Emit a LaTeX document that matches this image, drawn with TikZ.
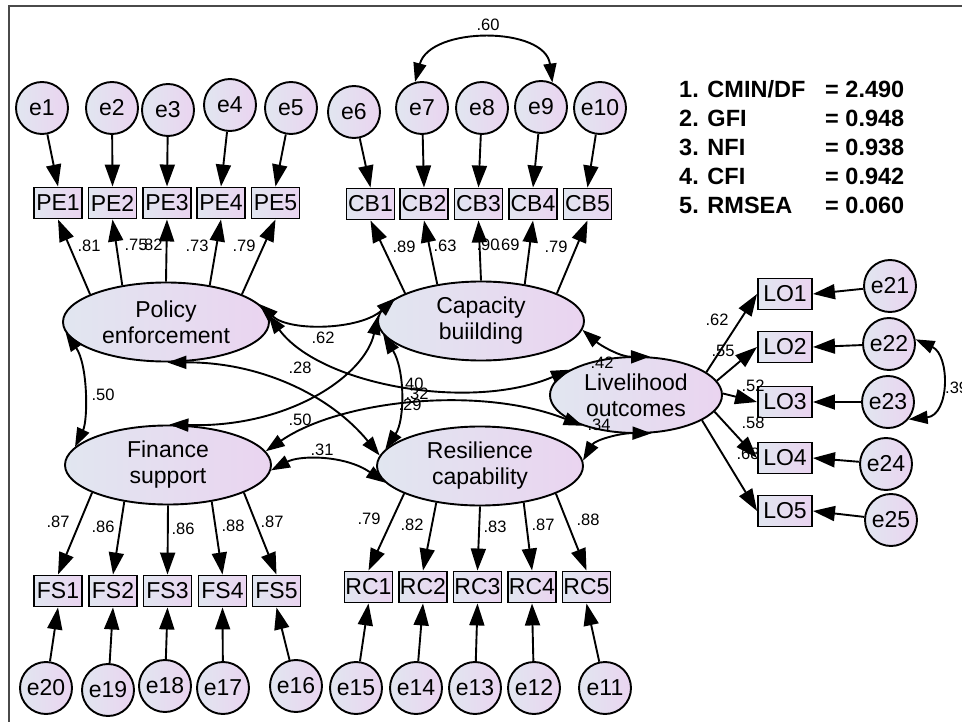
\documentclass[tikz,border=0pt]{standalone}
\usepackage{fontspec}
\setmainfont{Liberation Sans}
\usetikzlibrary{arrows.meta,shapes.geometric,backgrounds}
\definecolor{semLeft}{HTML}{E1E6F0}
\definecolor{semRight}{HTML}{EAD4F0}
\definecolor{semFrame}{HTML}{4A4A4A}
\tikzset{
  semShade/.style={
    left color=semLeft,
    right color=semRight
  },
  semObs/.style={
    rectangle,
    draw=black,
    line width=1.9pt,
    semShade,
    minimum width=48pt,
    minimum height=31pt,
    inner sep=1pt,
    font=\fontsize{23}{26}\selectfont
  },
  semLatent/.style={
    ellipse,
    draw=black,
    line width=1.9pt,
    semShade,
    minimum width=206pt,
    minimum height=79pt,
    inner sep=0pt,
    align=center,
    font=\fontsize{23}{26}\selectfont
  },
  semErr/.style={
    circle,
    draw=black,
    line width=1.9pt,
    semShade,
    minimum size=52pt,
    inner sep=0pt,
    font=\fontsize{23}{26}\selectfont
  },
  semArrow/.style={
    -{Triangle[length=22pt,width=15pt]},
    line width=1.9pt
  },
  semCov/.style={
    {Triangle[length=19pt,width=13pt]}-{Triangle[length=19pt,width=13pt]},
    line width=1.9pt
  },
  semLabel/.style={
    inner sep=0pt,
    font=\fontsize{16.5}{18}\selectfont
  },
  semFit/.style={
    inner sep=0pt,
    font=\bfseries\fontsize{23.5}{29}\selectfont
  }
}

\begin{document}
\begin{tikzpicture}[x=1pt, y=-1pt]
  \useasboundingbox (0,0) rectangle (962,722);
  \draw[semFrame, line width=1.4pt] (9,722) -- (9,6) -- (962,6);

  % latent variables
  \node[semLatent] (pe) at (166,322) {Policy\\enforcement};
  \node[semLatent] (cb) at (481,321) {Capacity\\buiilding};
  \node[semLatent] (fs) at (168,465) {Finance\\support};
  \node[semLatent] (rc) at (480,466) {Resilience\\capability};
  \node[semLatent, minimum width=172pt, minimum height=76pt] (lo) at (636,395) {Livelihood\\outcomes};

  % hidden label under LO4
  \begin{scope}[on background layer]
    \node[semLabel] (lLO5) at (748,454) {.68};
  \end{scope}

  % indicators
  \node[semObs] (PE1) at (58,203) {PE1};
  \node[semObs] (PE2) at (112.5,203) {PE2};
  \node[semObs] (PE3) at (167,203) {PE3};
  \node[semObs] (PE4) at (221,203) {PE4};
  \node[semObs] (PE5) at (275.5,203) {PE5};
  \node[semObs] (CB1) at (370.5,204) {CB1};
  \node[semObs] (CB2) at (424,204) {CB2};
  \node[semObs] (CB3) at (478.5,204) {CB3};
  \node[semObs] (CB4) at (533,204) {CB4};
  \node[semObs] (CB5) at (587.5,204) {CB5};
  \node[semObs] (FS1) at (58,591) {FS1};
  \node[semObs] (FS2) at (113,591) {FS2};
  \node[semObs] (FS3) at (167.5,591) {FS3};
  \node[semObs] (FS4) at (222.5,591) {FS4};
  \node[semObs] (FS5) at (276.5,591) {FS5};
  \node[semObs] (RC1) at (368.5,587) {RC1};
  \node[semObs] (RC2) at (423,587) {RC2};
  \node[semObs] (RC3) at (477.5,587) {RC3};
  \node[semObs] (RC4) at (532,587) {RC4};
  \node[semObs] (RC5) at (586.5,587) {RC5};
  \node[semObs, minimum width=54pt] (LO1) at (785,294) {LO1};
  \node[semObs, minimum width=54pt] (LO2) at (785,347) {LO2};
  \node[semObs, minimum width=54pt] (LO3) at (785,402) {LO3};
  \node[semObs, minimum width=54pt] (LO4) at (785,458) {LO4};
  \node[semObs, minimum width=54pt] (LO5) at (785,511) {LO5};

  % error terms
  \node[semErr] (e1) at (42,108) {e1};
  \node[semErr] (e2) at (112,108) {e2};
  \node[semErr] (e3) at (168,110) {e3};
  \node[semErr] (e4) at (230,105) {e4};
  \node[semErr] (e5) at (291,108) {e5};
  \node[semErr] (e6) at (354,112) {e6};
  \node[semErr] (e7) at (422,108) {e7};
  \node[semErr] (e8) at (482,108) {e8};
  \node[semErr] (e9) at (541,107) {e9};
  \node[semErr] (e10) at (600,108) {e10};
  \node[semErr] (e11) at (605,688) {e11};
  \node[semErr] (e12) at (534,688) {e12};
  \node[semErr] (e13) at (475,688) {e13};
  \node[semErr] (e14) at (416,688) {e14};
  \node[semErr] (e15) at (356,688) {e15};
  \node[semErr] (e16) at (296,686) {e16};
  \node[semErr] (e17) at (223,688) {e17};
  \node[semErr] (e18) at (165,686) {e18};
  \node[semErr] (e19) at (108,690) {e19};
  \node[semErr] (e20) at (46,688) {e20};
  \node[semErr] (e21) at (890,286) {e21};
  \node[semErr] (e22) at (889,344) {e22};
  \node[semErr] (e23) at (888,402) {e23};
  \node[semErr] (e24) at (886,464) {e24};
  \node[semErr] (e25) at (891,520) {e25};

  % fit indices
  \node[semFit, anchor=north west] (fit) at (679,77) {%
    \begin{tabular}{@{}p{146pt}@{}l@{}}
      1. CMIN/DF & = 2.490\\
      2. GFI & = 0.948\\
      3. NFI & = 0.938\\
      4. CFI & = 0.942\\
      5. RMSEA & = 0.060
    \end{tabular}};

  % errors to indicators
  \draw[semArrow] (e1) -- (PE1.north);
  \draw[semArrow] (e2) -- (PE2.north);
  \draw[semArrow] (e3) -- (PE3.north);
  \draw[semArrow] (e4) -- (PE4.north);
  \draw[semArrow] (e5) -- (PE5.north);
  \draw[semArrow] (e6) -- (CB1.north);
  \draw[semArrow] (e7) -- (CB2.north);
  \draw[semArrow] (e8) -- (CB3.north);
  \draw[semArrow] (e9) -- (CB4.north);
  \draw[semArrow] (e10) -- (CB5.north);
  \draw[semArrow] (e20) -- (FS1.south);
  \draw[semArrow] (e19) -- (FS2.south);
  \draw[semArrow] (e18) -- (FS3.south);
  \draw[semArrow] (e17) -- (FS4.south);
  \draw[semArrow] (e16) -- (FS5.south);
  \draw[semArrow] (e15) -- (RC1.south);
  \draw[semArrow] (e14) -- (RC2.south);
  \draw[semArrow] (e13) -- (RC3.south);
  \draw[semArrow] (e12) -- (RC4.south);
  \draw[semArrow] (e11) -- (RC5.south);
  \draw[semArrow] (e21) -- (LO1.east);
  \draw[semArrow] (e22) -- (LO2.east);
  \draw[semArrow] (e23) -- (LO3.east);
  \draw[semArrow] (e24) -- (LO4.east);
  \draw[semArrow] (e25) -- (LO5.east);

  % loadings
  \draw[semArrow] (pe.160) -- (PE1.south);
  \draw[semArrow] (pe.140) -- (PE2.south);
  \draw[semArrow] (pe.90) -- (PE3.south);
  \draw[semArrow] (pe.40) -- (PE4.south);
  \draw[semArrow] (pe.20) -- (PE5.south);
  \draw[semArrow] (cb.160) -- (CB1.south);
  \draw[semArrow] (cb.140) -- (CB2.south);
  \draw[semArrow] (cb.90) -- (CB3.south);
  \draw[semArrow] (cb.40) -- (CB4.south);
  \draw[semArrow] (cb.20) -- (CB5.south);
  \draw[semArrow] (fs.200) -- (FS1.north);
  \draw[semArrow] (fs.220) -- (FS2.north);
  \draw[semArrow] (fs.270) -- (FS3.north);
  \draw[semArrow] (fs.320) -- (FS4.north);
  \draw[semArrow] (fs.340) -- (FS5.north);
  \draw[semArrow] (rc.200) -- (RC1.north);
  \draw[semArrow] (rc.220) -- (RC2.north);
  \draw[semArrow] (rc.270) -- (RC3.north);
  \draw[semArrow] (rc.320) -- (RC4.north);
  \draw[semArrow] (rc.340) -- (RC5.north);
  \draw[semArrow] (lo.18) -- (LO1.west);
  \draw[semArrow] (lo.10) -- (LO2.west);
  \draw[semArrow] (lo.1) -- (LO3.west);
  \draw[semArrow] (lo.348) -- (LO4.west);
  \draw[semArrow] (lo.339) -- (LO5.west);

  % covariances
  \draw[semCov] (pe.11) .. controls (290,332) and (360,330) .. (cb.165);
  \draw[semCov] (pe.186) .. controls (88,365) and (88,420) .. (fs.169);
  \draw[semCov] (pe.272) .. controls (260,362) and (330,395) .. (rc.174);
  \draw[semCov] (pe.4) .. controls (320,385) and (470,412) .. (lo.159);
  \draw[semCov] (fs.88) .. controls (290,428) and (365,375) .. (cb.177);
  \draw[semCov] (fs.357) .. controls (300,455) and (345,455) .. (rc.190);
  \draw[semCov] (fs.8) .. controls (340,400) and (480,385) .. (lo.210);
  \draw[semCov] (cb.188) .. controls (405,370) and (405,420) .. (rc.170);
  \draw[semCov] (cb.355) .. controls (600,345) and (620,357) .. (lo.70);
  \draw[semCov] (rc.3) .. controls (595,440) and (620,433) .. (lo.292);
  \draw[semCov] (e7.105) .. controls (430,26) and (545,26) .. (e9.65);
  \draw[semCov] (e22.10) .. controls (950,355) and (950,415) .. (e23.320);

  % estimates
  \node[semLabel] (lPE1) at (89,246) {.81};
  \node[semLabel] (lPE2) at (136,245) {.75};
  \node[semLabel] (lPE3) at (151,245) {.82};
  \node[semLabel] (lPE4) at (197,246) {.73};
  \node[semLabel] (lPE5) at (244,246) {.79};
  \node[semLabel] (lCB1) at (404,247) {.89};
  \node[semLabel] (lCB2) at (445,246) {.63};
  \node[semLabel] (lCB3) at (488,245) {.90};
  \node[semLabel] (lCB4) at (508,245) {.69};
  \node[semLabel] (lCB5) at (556,247) {.79};
  \node[semLabel] (lFS1) at (58,522) {.87};
  \node[semLabel] (lFS2) at (103,527) {.86};
  \node[semLabel] (lFS3) at (183,529) {.86};
  \node[semLabel] (lFS4) at (233,526) {.88};
  \node[semLabel] (lFS5) at (272,522) {.87};
  \node[semLabel] (lRC1) at (369,519) {.79};
  \node[semLabel] (lRC2) at (412,525) {.82};
  \node[semLabel] (lRC3) at (495,527) {.83};
  \node[semLabel] (lRC4) at (543,525) {.87};
  \node[semLabel] (lRC5) at (588,520) {.88};
  \node[semLabel] (lLO1) at (717,320) {.62};
  \node[semLabel] (lLO2) at (723,351) {.55};
  \node[semLabel] (lLO3) at (753,386) {.52};
  \node[semLabel] (lLO4) at (753,423) {.58};
  \node[semLabel] (lPECB) at (323,338) {.62};
  \node[semLabel] (lPEFS) at (103,395) {.50};
  \node[semLabel] (lPERC) at (300,368) {.28};
  \node[semLabel] (lFSCB) at (300,420) {.50};
  \node[semLabel] (lFSRC) at (322,450) {.31};
  \node[semLabel] (lPELO) at (412,384) {.40};
  \node[semLabel] (lFSLO) at (417,394) {.32};
  \node[semLabel] (lCBRC) at (410,405) {.29};
  \node[semLabel] (lCBLO) at (602,363) {.42};
  \node[semLabel] (lRCLO) at (599,425) {.34};
  \node[semLabel] (lE79) at (488,25) {.60};
  \node[semLabel, anchor=west] (lE2223) at (945,388) {.39};
\end{tikzpicture}
\end{document}
